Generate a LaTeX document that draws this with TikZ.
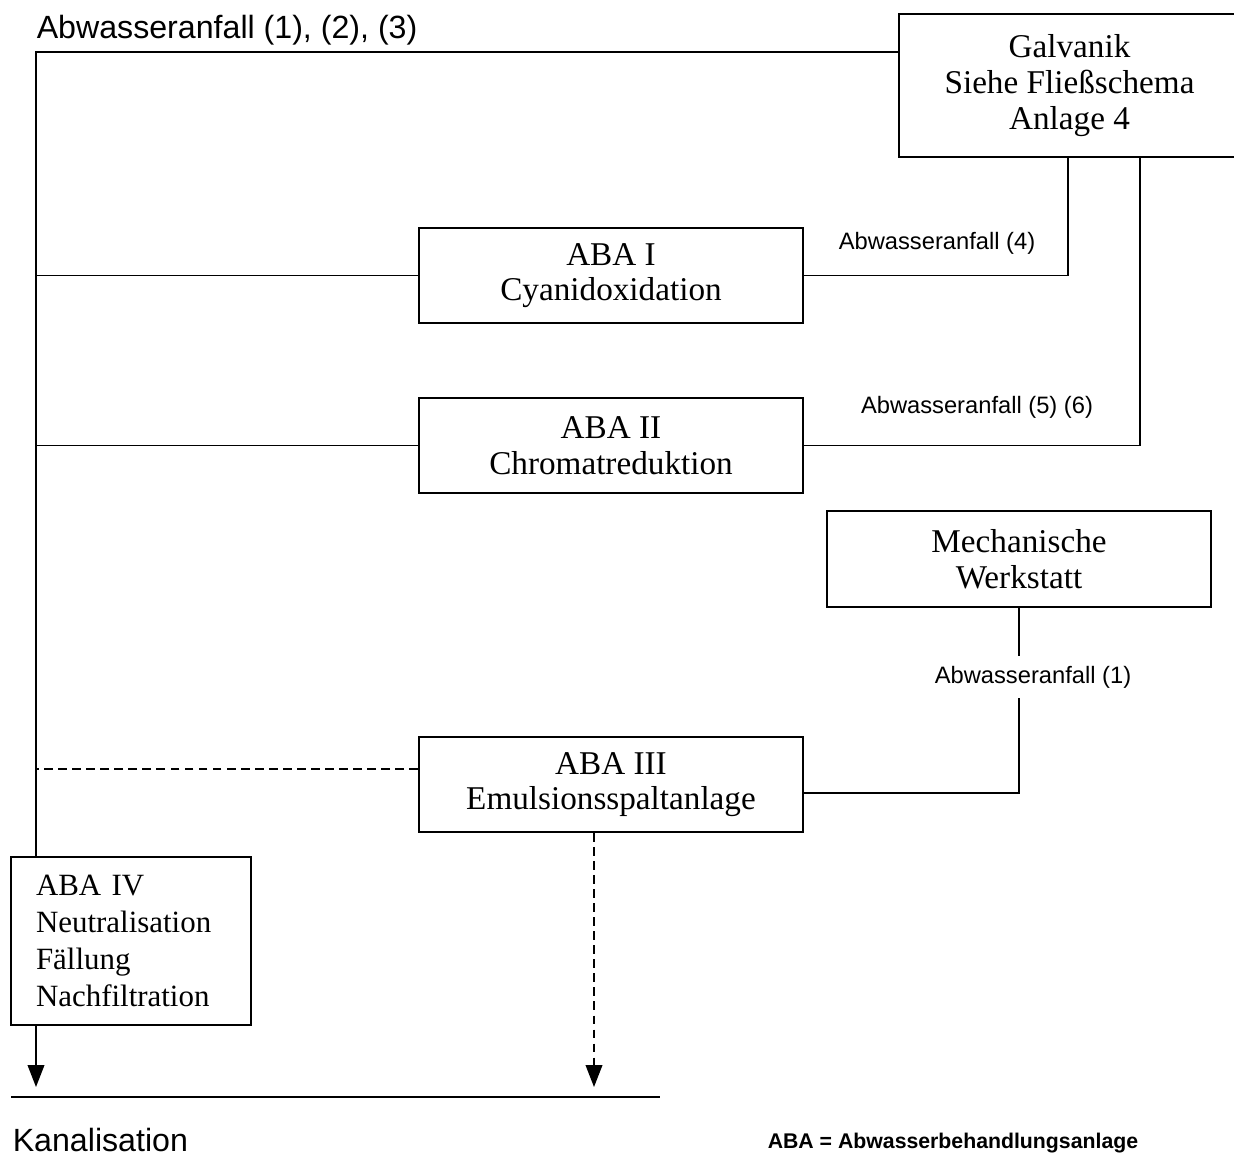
\documentclass[tikz,border=0pt]{standalone}
\usepackage{fontspec}
\setmainfont{Liberation Serif}
\setsansfont{Liberation Sans}
\usepackage{tikz}
\usetikzlibrary{arrows.meta}

\newcommand\boxfont{\fontsize{18.9}{20.3}\selectfont}
\newcommand\bigsans{\sffamily\fontsize{18.3}{21}\selectfont}
\newcommand\smallsans{\sffamily\fontsize{13.5}{16}\selectfont}

\begin{document}
\begin{tikzpicture}[x=0.02cm,y=-0.02cm,line width=0.9pt,
    flow/.style={-{Triangle[length=12.5pt,width=9.5pt]}},
    drain/.style={dash pattern=on 5pt off 3pt}]

        \useasboundingbox (0,0) rectangle (1234,1160);

        \begin{scope}[every node/.style={rectangle,draw,align=center,inner sep=0pt,font=\boxfont}]
          \node[minimum width=6.82cm,minimum height=2.86cm] (galv) at (1069.5,85.5) {Galvanik\\Siehe Fließschema\\Anlage 4};
          \node[minimum width=7.68cm,minimum height=1.9cm] (aba1) at (611,275.5) {ABA I\\Cyanidoxidation};
          \node[minimum width=7.68cm,minimum height=1.9cm] (aba2) at (611,445.5) {ABA II\\Chromatreduktion};
          \node[minimum width=7.68cm,minimum height=1.92cm] (mech) at (1019,559) {Mechanische\\Werkstatt};
          \node[minimum width=7.68cm,minimum height=1.9cm] (aba3) at (611,784.5) {ABA III\\Emulsionsspaltanlage};
          \node[minimum width=4.8cm,minimum height=3.36cm,align=left,text width=3.8cm,
                inner xsep=0.5cm,font=\fontsize{17.6}{21}\selectfont] (aba4) at (131,941)
                {ABA IV\\Neutralisation\\Fällung\\Nachfiltration};
        \end{scope}

        \begin{scope}[every node/.style={inner sep=0pt}]
          \node[anchor=west,font=\bigsans] (l123) at (36,30) {Abwasseranfall (1), (2), (3)};
          \node[font=\smallsans] (l4)  at (937,243) {Abwasseranfall (4)};
          \node[font=\smallsans] (l56) at (977,407) {Abwasseranfall (5) (6)};
          \node[font=\smallsans,minimum height=0.82cm] (l1) at (1033,677) {Abwasseranfall (1)};
          \node[anchor=west,font=\bigsans] (kan) at (12,1140) {Kanalisation};
          \node[anchor=west,font=\sffamily\bfseries\fontsize{12.1}{14}\selectfont] (leg) at (767,1143) {ABA = Abwasserbehandlungsanlage};
        \end{scope}

        \coordinate (in1) at (36,52);
        \coordinate (kanl) at (11,1097);
        \coordinate (kanr) at (660,1097);
        \coordinate (tip1) at (36,1087);
        \coordinate (tip2) at (594,1087);

        % Sammelleitung links
        \draw (galv.west |- in1) -- (in1) -- (in1 |- aba4.north);
        \draw (aba1.west) -- (aba1.west -| in1);
        \draw (aba2.west) -- (aba2.west -| in1);
        \draw[drain] ([yshift=0.31cm]aba3.west) -- ([yshift=0.31cm]aba3.west -| in1);

        % Zulaeufe
        \draw ([xshift=-0.03cm]galv.south) |- (aba1.east);
        \draw ([xshift=1.41cm]galv.south) |- (aba2.east);
        \draw (mech.south) -- (mech.south |- l1.north);
        \draw (mech.south |- l1.south) |- ([yshift=-0.17cm]aba3.east);

        % Kanalisation
        \draw[flow] (aba4.south -| tip1) -- (tip1);
        \draw[flow,drain] (aba3.south -| tip2) -- (tip2);
        \draw (kanl) -- (kanr);

      \end{tikzpicture}
\end{document}
